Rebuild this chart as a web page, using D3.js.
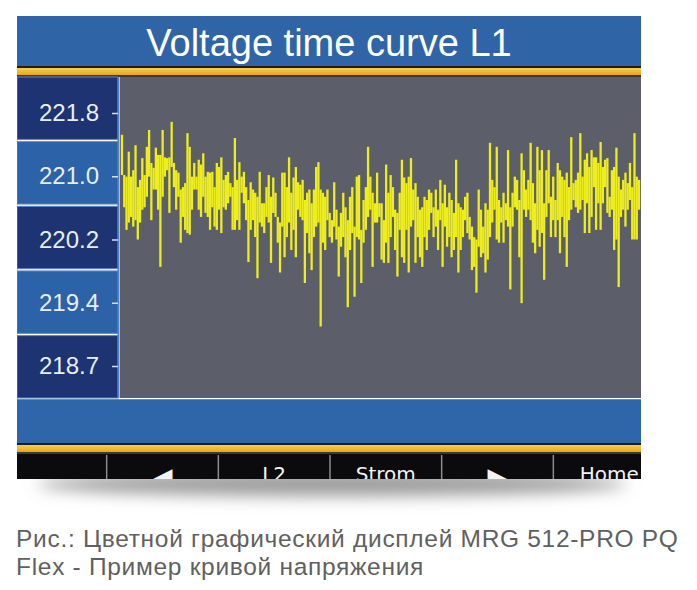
<!DOCTYPE html>
<html lang="ru">
<head>
<meta charset="utf-8">
<title>Voltage time curve L1</title>
<script src="https://cdn.jsdelivr.net/npm/d3@7"></script>
<style>
  body { margin: 0; background: #fff; }
  svg { display: block; }
</style>
</head>
<body>
<script>
// chart data
var titleText = "Voltage time curve L1";
var yTicks = [221.8, 221.015, 220.23, 219.445, 218.66];
var yTickLabels = ["221.8", "221.0", "220.2", "219.4", "218.7"];
var buttonLabels = ["", "\u25C0", "L2", "Strom", "\u25B6", "Home"];
var captionLines = ["Рис.: Цветной графический дисплей MRG 512-PRO PQ",
                    "Flex - Пример кривой напряжения"];

// each sample drawn as a vertical stroke from its high to its low value
var voltHigh = [
  221.53, 221.03, 221.01, 221.32, 221.01, 221.09, 221.40, 220.88, 220.97, 221.24,
  221.03, 221.38, 221.59, 221.18, 221.12, 221.37, 221.28, 221.28, 221.59, 221.25,
  221.24, 221.25, 221.69, 221.18, 221.09, 221.06, 220.85, 220.88, 220.93, 221.55,
  221.38, 221.01, 221.18, 221.01,
  221.22, 221.16, 221.30, 221.01, 221.07, 221.06, 221.07, 220.88, 221.18, 221.13,
  221.25, 220.97, 221.03, 221.07, 220.93, 220.88, 221.49, 220.97, 221.19, 221.01,
  221.07, 220.88, 220.72, 220.94, 220.85, 220.81, 220.76, 221.07, 220.68, 220.68,
  220.88, 221.03, 220.76, 221.00, 220.81, 220.51, 220.44, 221.06,
  221.06, 220.88, 221.25, 220.81, 221.00, 221.13, 220.94, 220.91, 220.97, 220.72,
  220.81, 220.85, 220.68, 220.85, 221.13, 221.19, 220.85, 220.81, 220.76, 220.85,
  220.56, 220.47, 220.94, 220.60, 220.39, 220.56, 220.81, 220.63, 220.47, 220.76,
  220.88, 220.39, 221.01, 221.03, 220.35, 220.72, 220.88, 221.38, 221.01, 220.81,
  220.68,
  221.06, 220.68, 220.68, 220.47, 221.16, 220.81, 221.03, 220.88, 220.60, 220.56,
  220.81, 221.22, 221.00, 220.93, 221.01, 221.24, 220.85, 220.93, 220.76, 220.60,
  220.63, 220.76, 220.72, 220.85, 220.81, 220.63, 220.85, 220.60, 220.97, 220.68,
  220.91, 220.63, 220.81, 220.72, 220.56, 221.22, 220.68, 220.63, 220.60, 220.76,
  220.81, 220.51, 220.39, 220.26, 220.23, 220.85, 220.60, 220.39, 220.68, 220.60,
  221.43, 220.97, 220.88, 221.38, 220.72, 220.63, 220.81, 220.68, 221.34, 220.63,
  220.81, 221.01, 220.97, 220.72, 221.30, 221.09, 220.85, 220.97, 221.43, 220.93,
  220.68, 221.38, 221.09, 221.34, 220.68, 221.09, 221.34, 220.76, 221.01, 220.72,
  221.18, 221.09,
  221.01, 220.97, 221.06, 220.88, 221.50, 220.93, 220.97, 221.06, 221.55, 221.01,
  221.22, 221.30, 221.13, 221.34, 221.25, 221.25, 221.18, 221.44, 221.13, 221.22,
  221.24, 220.76, 221.09, 221.13, 221.37, 221.01, 220.85, 220.97, 221.06, 220.93,
  221.18, 220.88, 221.55, 221.01, 220.97
];
var voltLow = [
  221.03, 220.63, 220.35, 220.44, 220.51, 220.39, 220.47, 220.23, 220.44, 220.60,
  220.63, 220.76, 221.01, 220.47, 220.85, 220.85, 220.60, 219.89, 220.76, 221.01,
  221.09, 220.56, 221.13, 220.88, 220.60, 220.76, 220.19, 220.51, 220.35, 220.31,
  220.29, 220.60, 220.85, 220.85,
  220.60, 220.51, 220.76, 220.56, 220.51, 220.35, 220.63, 220.39, 220.35, 220.60,
  220.31, 220.63, 220.60, 220.68, 220.76, 220.35, 220.35, 220.47, 220.35, 220.81,
  220.68, 220.47, 219.95, 220.35, 220.47, 220.26, 219.75, 220.44, 220.39, 220.31,
  220.51, 220.44, 219.94, 220.56, 220.51, 220.19, 219.82, 220.39,
  220.01, 220.26, 220.44, 220.10, 220.35, 220.01, 220.60, 220.51, 220.47, 219.69,
  220.31, 220.06, 219.85, 220.26, 220.39, 220.44, 219.15, 220.19, 220.10, 220.47,
  220.26, 220.19, 220.39, 220.23, 219.77, 220.14, 220.26, 220.01, 219.39, 220.10,
  220.31, 219.52, 220.26, 220.23, 219.69, 220.19, 220.35, 220.51, 220.60, 219.89,
  220.44,
  220.44, 220.51, 219.98, 219.94, 220.19, 219.94, 220.26, 220.51, 220.10, 219.77,
  220.35, 220.01, 219.94, 220.35, 219.82, 220.39, 220.47, 219.94, 220.26, 220.01,
  219.89, 220.26, 220.10, 220.35, 220.56, 220.26, 220.39, 220.10, 220.47, 219.89,
  220.39, 220.14, 220.26, 220.01, 220.10, 220.26, 219.82, 220.10, 220.26, 220.47,
  220.31, 220.23, 219.85, 219.89, 219.57, 220.14, 220.01, 220.06, 219.82, 219.98,
  220.26, 220.44, 220.60, 220.23, 220.19, 220.44, 220.19, 220.47, 220.39, 219.61,
  220.39, 220.63, 220.60, 220.01, 219.44, 220.60, 220.51, 220.60, 220.47, 220.19,
  220.06, 220.35, 220.14, 220.31, 219.73, 220.51, 220.68, 220.26, 220.47, 220.26,
  220.47, 220.06,
  220.51, 220.26, 219.89, 220.47, 220.60, 220.72, 220.63, 220.56, 220.60, 220.72,
  220.31, 220.68, 220.31, 220.51, 220.88, 220.35, 220.68, 220.35, 220.68, 220.88,
  220.56, 220.51, 220.60, 220.10, 220.23, 219.64, 220.51, 220.60, 220.39, 220.60,
  220.72, 220.23, 220.23, 220.23, 220.60
];

var W = 697, H = 590;
var scrL = 17, scrR = 641, scrT = 16, scrB = 479;
var plotL = 120, plotT = 77, plotB = 398;

var svg = d3.select("body").append("svg")
    .attr("width", W)
    .attr("height", H);

var defs = svg.append("defs");
defs.append("filter").attr("id", "blur")
    .attr("x", "-20%").attr("y", "-300%").attr("width", "140%").attr("height", "700%")
  .append("feGaussianBlur").attr("stdDeviation", 8);
defs.append("clipPath").attr("id", "screen")
  .append("rect").attr("x", scrL).attr("y", scrT)
    .attr("width", scrR - scrL).attr("height", scrB - scrT);
var gold = defs.append("linearGradient").attr("id", "gold")
    .attr("x1", 0).attr("y1", 0).attr("x2", 0).attr("y2", 1);
gold.append("stop").attr("offset", "0%").attr("stop-color", "#f7d04a");
gold.append("stop").attr("offset", "100%").attr("stop-color", "#e7a51c");

// shadow under the device screen
svg.append("ellipse")
    .attr("cx", 332).attr("cy", 484)
    .attr("rx", 295).attr("ry", 12)
    .attr("fill", "#9a9a9a")
    .attr("filter", "url(#blur)");

var scr = svg.append("g").attr("clip-path", "url(#screen)");

// title bar
scr.append("rect").attr("x", scrL).attr("y", scrT)
    .attr("width", scrR - scrL).attr("height", 50).attr("fill", "#2f64a7");
scr.append("text")
    .attr("x", (scrL + scrR) / 2).attr("y", 56)
    .attr("text-anchor", "middle")
    .attr("font-family", "'Liberation Sans', Arial, sans-serif")
    .attr("font-size", 38)
    .attr("fill", "#ffffff")
    .text(titleText);

function goldStripe(yTop) {
    scr.append("rect").attr("x", scrL).attr("y", yTop)
        .attr("width", scrR - scrL).attr("height", 3).attr("fill", "#1c1d24");
    scr.append("rect").attr("x", scrL).attr("y", yTop + 2)
        .attr("width", scrR - scrL).attr("height", 7).attr("fill", "url(#gold)");
    scr.append("rect").attr("x", scrL).attr("y", yTop + 9)
        .attr("width", scrR - scrL).attr("height", 2).attr("fill", "#3a3a3a");
}
goldStripe(66);

// plot area
scr.append("rect").attr("x", plotL).attr("y", plotT)
    .attr("width", scrR - plotL).attr("height", plotB - plotT)
    .attr("fill", "#5c5f69");

// left label rows
var rows = d3.scaleBand().domain(yTickLabels).range([plotT, plotB]).paddingInner(0.035);
scr.selectAll("rect.row").data(yTickLabels).join("rect")
    .attr("class", "row")
    .attr("x", scrL).attr("y", function(d) { return rows(d); })
    .attr("width", 101).attr("height", rows.bandwidth())
    .attr("fill", function(d, i) { return i % 2 ? "#2c62a8" : "#1e3372"; })
    .attr("stroke", "#5b86c6").attr("stroke-width", 1);
scr.append("line")
    .attr("x1", 118.5).attr("x2", 118.5).attr("y1", plotT).attr("y2", plotB)
    .attr("stroke", "#4f7fc4").attr("stroke-width", 2);

var y = d3.scaleLinear().domain([218.66, 221.8]).range([366, 113]);
var x = d3.scaleLinear().domain([0, voltHigh.length - 1]).range([122, 639]);

var yAxis = d3.axisLeft(y)
    .tickValues(yTicks)
    .tickFormat(function(d, i) { return yTickLabels[i]; })
    .tickSize(6)
    .tickPadding(13);
var ga = scr.append("g").attr("transform", "translate(118,0)").call(yAxis);
ga.select(".domain").remove();
ga.selectAll(".tick line").attr("stroke", "#d6deef").attr("stroke-width", 1.5);
ga.selectAll(".tick text")
    .attr("fill", "#e8eef9")
    .attr("font-family", "'Liberation Sans', Arial, sans-serif")
    .attr("font-size", 24);

// voltage trace
scr.append("g").selectAll("line").data(voltHigh).join("line")
    .attr("x1", function(d, i) { return x(i); })
    .attr("x2", function(d, i) { return x(i); })
    .attr("y1", function(d) { return y(d); })
    .attr("y2", function(d, i) { return y(voltLow[i]); })
    .attr("stroke", "#eded1f")
    .attr("stroke-width", 2.3);

// bottom blue bar
scr.append("rect").attr("x", scrL).attr("y", 399)
    .attr("width", scrR - scrL).attr("height", 45).attr("fill", "#2f66a9");
scr.append("line").attr("x1", scrL).attr("x2", scrR).attr("y1", 399.5).attr("y2", 399.5)
    .attr("stroke", "#5a8ccc");
goldStripe(443);

// soft keys
scr.append("rect").attr("x", scrL).attr("y", 454)
    .attr("width", scrR - scrL).attr("height", scrB - 454).attr("fill", "#0b0b0d");
var keys = d3.scaleBand().domain(buttonLabels).range([-5, 665]);
var kg = scr.selectAll("g.key").data(buttonLabels).join("g").attr("class", "key");
kg.append("line")
    .attr("x1", function(d) { return keys(d) + keys.bandwidth(); })
    .attr("x2", function(d) { return keys(d) + keys.bandwidth(); })
    .attr("y1", 455).attr("y2", scrB)
    .attr("stroke", "#8c8c8c").attr("stroke-width", 1.5);
kg.append("text")
    .attr("x", function(d) { return keys(d) + keys.bandwidth() / 2; })
    .attr("y", function(d) { return d.length === 1 ? 486 : 481; })
    .attr("text-anchor", "middle")
    .attr("font-family", "'DejaVu Sans', 'Liberation Sans', sans-serif")
    .attr("font-size", function(d) { return d.length === 1 ? 26 : 20; })
    .attr("fill", "#f2f2f2")
    .text(function(d) { return d; });

// caption
svg.selectAll("text.caption").data(captionLines).join("text")
    .attr("class", "caption")
    .attr("x", 16)
    .attr("y", function(d, i) { return 547 + i * 28; })
    .attr("font-family", "'Liberation Sans', Arial, sans-serif")
    .attr("font-size", 24.5)
    .attr("letter-spacing", 0.7)
    .attr("fill", "#606060")
    .text(function(d) { return d; });
</script>
</body>
</html>
